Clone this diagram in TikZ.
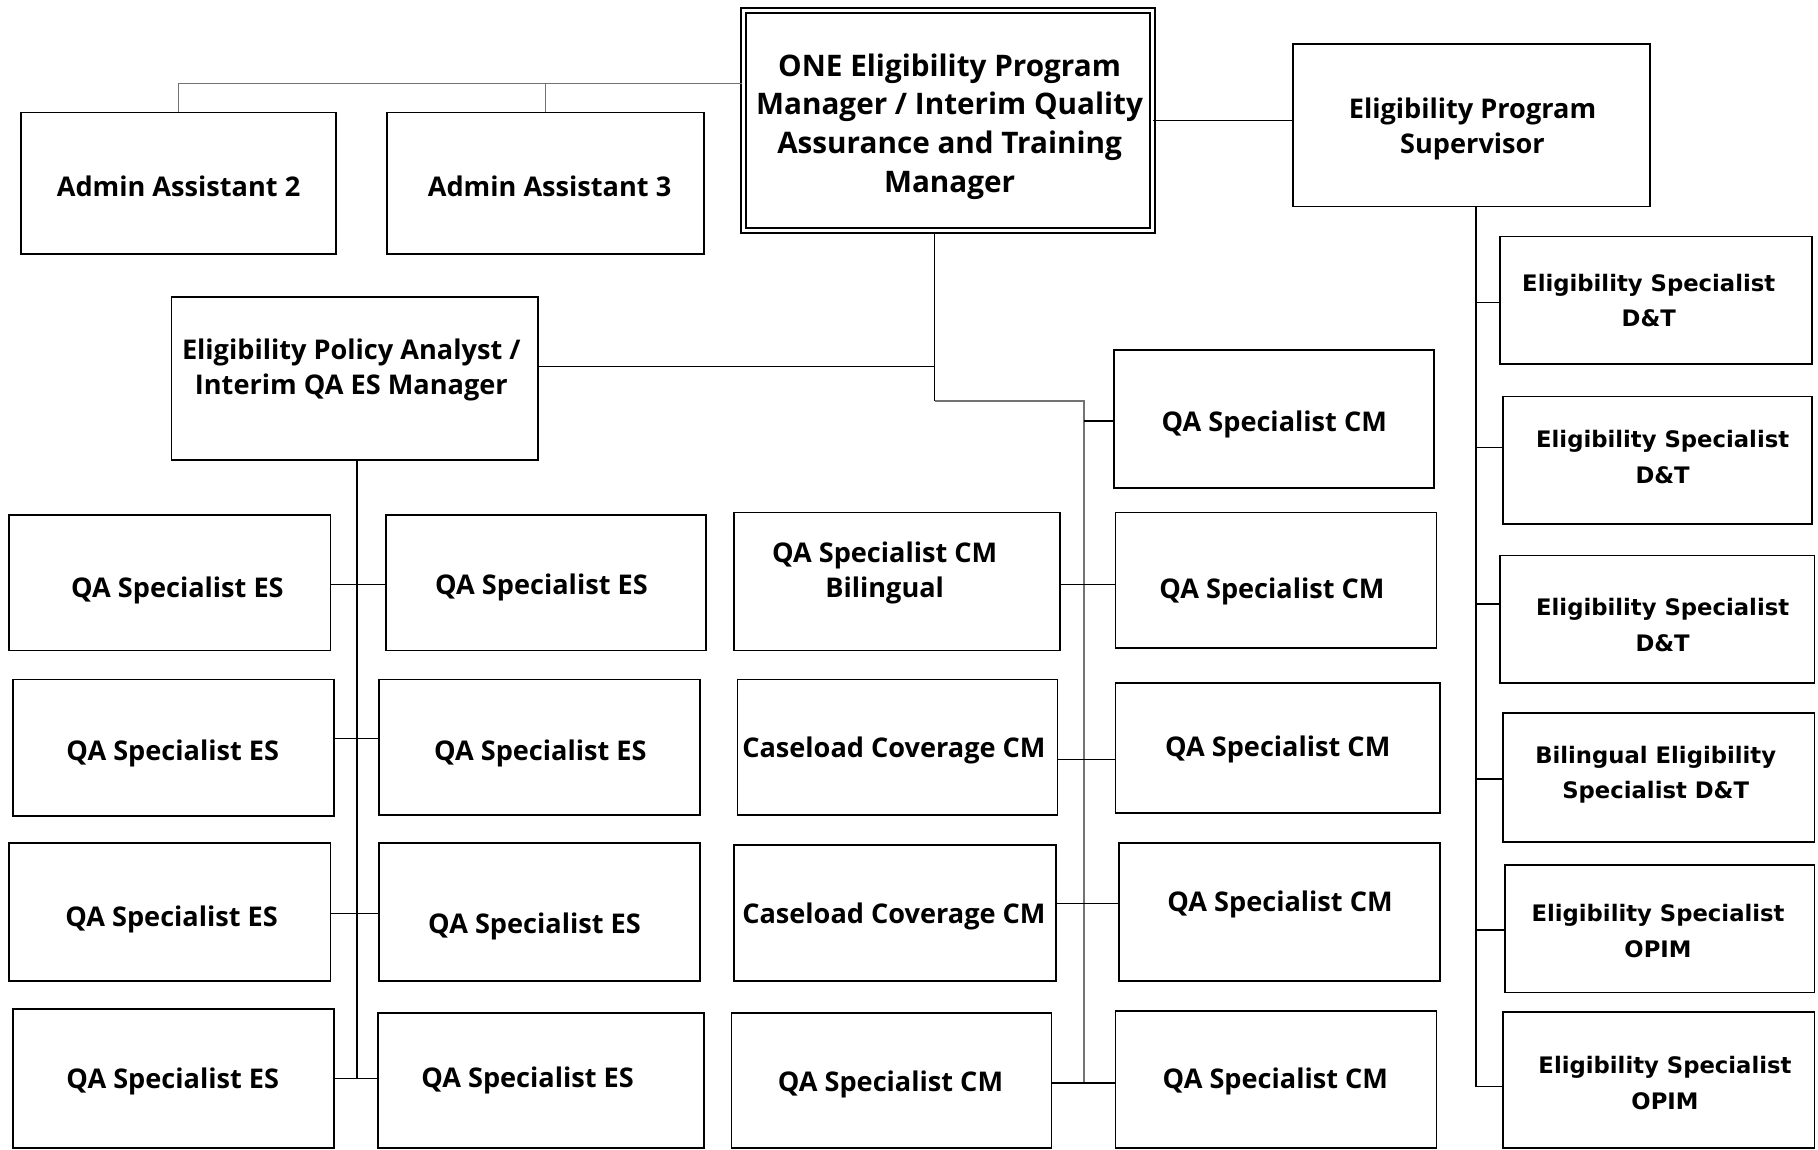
\documentclass[tikz,border=0pt]{standalone}
\usepackage{fontspec}
\setmainfont{Open Sans}
\newfontfamily\widefont{DejaVu Sans}
\usetikzlibrary{fit}
\tikzset{
  box/.style={draw=black, line width=0.75pt, inner sep=0pt},
  lbl/.style={align=center, inner sep=0pt, yshift=-1.5pt, font=\fontsize{11.7}{15.2}\selectfont\bfseries},
  toplbl/.style={align=center, inner sep=0pt, yshift=-1.5pt, font=\fontsize{12.8}{16.7}\selectfont\bfseries},
  widelbl/.style={align=center, inner sep=0pt, yshift=-0.6pt, font=\widefont\fontsize{9.8}{15.5}\selectfont\bfseries},
  conn/.style={draw=black, line width=0.6pt},
  soft/.style={draw=black!55, line width=0.6pt},
}
% \post{name}{x1}{y1}{x2}{y2}{text x}{text y}{text style}{text}
\newcommand\post[9]{%
  \node[box, fit={(#2,#3)(#4,#5)}] (#1) {};
  \node[#8] (#1t) at (#6,#7) {#9};}
% horizontal stub from an anchor (shifted vertically) to the x of a target
\newcommand\hstub[3]{%
  \path ([yshift=#2]#1) coordinate (stubstart);
  \draw[conn] (stubstart) -- (stubstart -| #3);}

\begin{document}
\begin{tikzpicture}[x=0.5pt, y=-0.5pt]
\useasboundingbox (0,0) rectangle (1568,991);

% top level
\node[box, double, double distance=1.3pt, line width=0.8pt, fit={(641,9)(994,199)}] (one) {};
\node[toplbl] (onet) at (819,106) {ONE Eligibility Program\\Manager / Interim Quality\\Assurance and Training\\Manager};
\post{a2}{18}{97}{290}{219}{154}{158}{lbl}{Admin Assistant 2}
\post{a3}{334}{97}{607}{219}{474}{158}{lbl}{Admin Assistant 3}
\post{eps}{1115}{38}{1423}{178}{1270}{108}{lbl}{Eligibility Program\\Supervisor}
\post{epa}{148}{256}{464}{397}{303}{316}{lbl}{Eligibility Policy Analyst /\\Interim QA ES Manager}

% QA ES team
\post{es1L}{8}{444}{285}{561}{153}{506}{lbl}{QA Specialist ES}
\post{es1R}{333}{444}{609}{561}{467}{504}{lbl}{QA Specialist ES}
\post{es2L}{11}{586}{288}{704}{149}{647}{lbl}{QA Specialist ES}
\post{es2R}{327}{586}{604}{703}{466}{647}{lbl}{QA Specialist ES}
\post{es3L}{8}{727}{285}{846}{148}{790}{lbl}{QA Specialist ES}
\post{es3R}{327}{727}{604}{846}{461}{796}{lbl}{QA Specialist ES}
\post{es4L}{11}{870}{288}{990}{149}{930}{lbl}{QA Specialist ES}
\post{es4R}{326}{874}{607}{990}{455}{929}{lbl}{QA Specialist ES}

% QA CM team
\post{cmB}{633}{442}{914}{561}{763}{491}{lbl}{QA Specialist CM\\Bilingual}
\post{cc1}{636}{586}{912}{703}{771}{644}{lbl}{Caseload Coverage CM}
\post{cc2}{633}{729}{911}{846}{771}{787}{lbl}{Caseload Coverage CM}
\post{cm5L}{631}{874}{907}{990}{768}{932}{lbl}{QA Specialist CM}
\post{cm1}{961}{302}{1237}{421}{1099}{363}{lbl}{QA Specialist CM}
\post{cm2}{962}{442}{1239}{559}{1097}{507}{lbl}{QA Specialist CM}
\post{cm3}{962}{589}{1242}{701}{1102}{643}{lbl}{QA Specialist CM}
\post{cm4}{965}{727}{1242}{846}{1104}{777}{lbl}{QA Specialist CM}
\post{cm5}{962}{872}{1239}{990}{1100}{930}{lbl}{QA Specialist CM}

% eligibility specialists
\post{d1}{1294}{204}{1563}{314}{1422}{258}{widelbl}{Eligibility Specialist\\D\&T}
\post{d2}{1296}{342}{1563}{452}{1434}{393}{widelbl}{Eligibility Specialist\\D\&T}
\post{d3}{1294}{479}{1565}{589}{1434}{538}{widelbl}{Eligibility Specialist\\D\&T}
\post{bil}{1296}{615}{1565}{726}{1428}{667}{widelbl}{Bilingual Eligibility\\Specialist D\&T}
\post{o1}{1298}{746}{1565}{856}{1430}{802}{widelbl}{Eligibility Specialist\\OPIM}
\post{o2}{1296}{873}{1565}{990}{1436}{933}{widelbl}{Eligibility Specialist\\OPIM}

% junction points of the connector trees
\coordinate (oneL) at (640,72);
\coordinate (hub) at (806,316);
\coordinate (cmjoin) at (806,346);
\coordinate (cmbus) at (935,346);
\coordinate (cmend) at (935,934);
\coordinate (esbus) at (308,930);
\coordinate (rbus) at (1273,178);

% manager links
\draw[soft] (one.west |- oneL) -| (a2.north);
\draw[soft] (a3.north) -- (a3.north |- oneL);
\draw[conn] (one.east) -- (one.east -| eps.west);
\draw[conn] (one.south -| hub) -- (cmjoin);
\draw[conn] (epa.east |- hub) -- (hub);
\draw[soft] (cmjoin) -- (cmbus) -- (cmend);

% QA ES tree
\draw[conn] (epa.south -| esbus) -- (esbus);
\hstub{es1L.east}{-0.75pt}{es1R.west}
\hstub{es2L.east}{4pt}{es2R.west}
\hstub{es3L.east}{-0.75pt}{es3R.west}
\hstub{es4L.east}{0pt}{es4R.west}

% QA CM tree
\hstub{cm1.west}{-0.75pt}{cmbus}
\hstub{cmB.east}{-1.25pt}{cm2.west}
\hstub{cc1.east}{-5.25pt}{cm3.west}
\hstub{cc2.east}{4.25pt}{cm4.west}
\hstub{cm5L.east}{-1pt}{cm5.west}

% eligibility specialist tree
\path ([yshift=-2.75pt]o2.west) coordinate (o2in);
\draw[conn] (eps.south -| rbus) |- (o2in);
\hstub{d1.west}{-1pt}{rbus}
\hstub{d2.west}{5.5pt}{rbus}
\hstub{d3.west}{6.5pt}{rbus}
\hstub{bil.west}{-0.75pt}{rbus}
\hstub{o1.west}{-0.5pt}{rbus}
\end{tikzpicture}
\end{document}
